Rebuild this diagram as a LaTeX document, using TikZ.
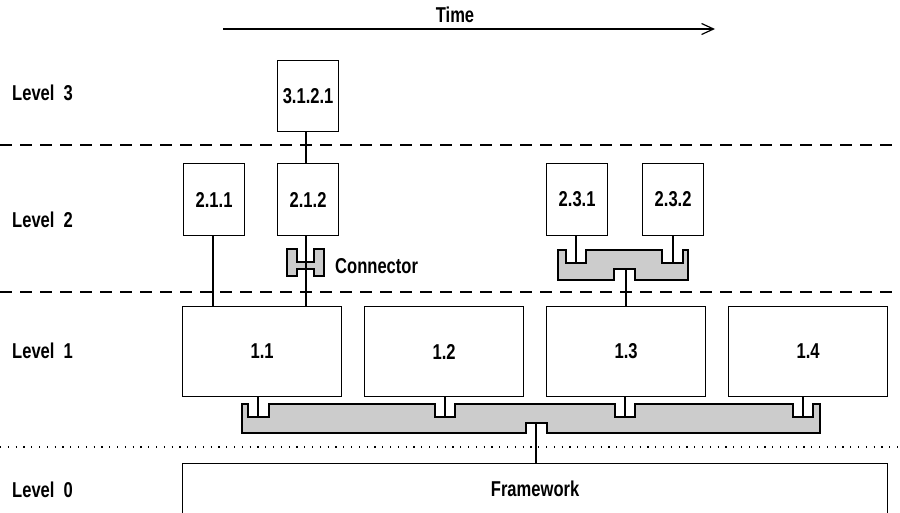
\documentclass[tikz,border=0pt]{standalone}
\usepackage{fontspec}
\setmainfont{Liberation Sans}[FakeStretch=0.77]
\usetikzlibrary{arrows.meta}
\definecolor{connfill}{HTML}{CCCCCC}
\tikzset{
  every node/.style={font=\bfseries\fontsize{21.5}{25}\selectfont, inner sep=0pt},
  part/.style={draw, line width=1.2pt, fill=white, anchor=north west},
  lvl/.style={anchor=west},
  link/.style={line width=1.2pt},
  conn/.style={draw, line width=1.2pt, fill=connfill},
  levelsep/.style={line width=1.2pt, dash pattern=on 12pt off 8pt},
  basesep/.style={line width=1.2pt, dash pattern=on 1.2pt off 6.6pt},
}
\begin{document}
\begin{tikzpicture}[x=1pt, y=-1pt]
\useasboundingbox (0,0) rectangle (900,513);

% time axis
\node (time) at (455,15) {Time};
\coordinate (t0) at (223,29);
\coordinate (t1) at (715,29);
\draw[link, -{Straight Barb[length=12pt,width=11pt,line width=1.2pt]}] (t0) -- (t1);

% level separators
\draw[levelsep] (0,145) -- (900,145);
\draw[levelsep] (0,292) -- (900,292);
\draw[basesep] (0,447) -- (900,447);

% level names
\node[lvl] (l3) at (12,93) {Level\ \ 3};
\node[lvl] (l2) at (12,220) {Level\ \ 2};
\node[lvl] (l1) at (12,351) {Level\ \ 1};
\node[lvl] (l0) at (12,490) {Level\ \ 0};

% components
\node[part, minimum width=61pt, minimum height=71pt] (b3121) at (277,60) {3.1.2.1};
\node[part, minimum width=61pt, minimum height=72pt] (b211) at (183,163) {2.1.1};
\node[part, minimum width=61pt, minimum height=72pt] (b212) at (277,163) {2.1.2};
\node[part, minimum width=61pt, minimum height=72pt] (b231) at (546,163) {2.3.1};
\node[part, minimum width=61pt, minimum height=72pt] (b232) at (642,163) {2.3.2};
\node[part, minimum width=159pt, minimum height=90pt] (b11) at (182,306) {1.1};
\node[part, minimum width=159pt, minimum height=90pt] (b12) at (364,306) {1.2};
\node[part, minimum width=159pt, minimum height=90pt] (b13) at (546,306) {1.3};
\node[part, minimum width=159pt, minimum height=90pt] (b14) at (728,306) {1.4};
\node[part, minimum width=705pt, minimum height=50pt] (fw) at (182,463) {Framework};

% connector between 2.1.2 and 1.1
\path[conn] (287,249) -- (297,249) -- (297,262) -- (314,262) -- (314,249)
  -- (324,249) -- (324,276) -- (314,276) -- (314,269) -- (297,269)
  -- (297,276) -- (287,276) -- cycle;
\node[anchor=west] (clabel) at (335,266) {Connector};
\coordinate (x212) at (306,0);
\coordinate (x211) at (213,0);
\draw[link] (b3121.south -| x212) -- (b212.north -| x212);
\draw[link] (b212.south -| x212) -- (b11.north -| x212);
\draw[link] (b211.south -| x211) -- (b11.north -| x211);

% connector joining 2.3.1 and 2.3.2 to 1.3
\path[conn] (558,250) -- (566,250) -- (566,263) -- (586,263) -- (586,250)
  -- (662,250) -- (662,263) -- (683,263) -- (683,250) -- (688,250)
  -- (688,280) -- (635,280) -- (635,269) -- (614,269) -- (614,280)
  -- (558,280) -- cycle;
\coordinate (s1) at (576,263);
\coordinate (s2) at (673,263);
\coordinate (s3) at (626,269);
\draw[link] (b231.south -| s1) -- (s1);
\draw[link] (b232.south -| s2) -- (s2);
\draw[link] (s3) -- (b13.north -| s3);

% connector joining level 1 to the framework
\path[conn] (242,404) -- (248,404) -- (248,417) -- (269,417) -- (269,404)
  -- (435,404) -- (435,417) -- (455,417) -- (455,404)
  -- (615,404) -- (615,417) -- (635,417) -- (635,404)
  -- (793,404) -- (793,417) -- (813,417) -- (813,404) -- (820,404)
  -- (820,433) -- (547,433) -- (547,423) -- (526,423) -- (526,433)
  -- (242,433) -- cycle;
\coordinate (p1) at (258,417);
\coordinate (p2) at (445,417);
\coordinate (p3) at (625,417);
\coordinate (p4) at (803,417);
\coordinate (pf) at (536,423);
\draw[link] (b11.south -| p1) -- (p1);
\draw[link] (b12.south -| p2) -- (p2);
\draw[link] (b13.south -| p3) -- (p3);
\draw[link] (b14.south -| p4) -- (p4);
\draw[link] (pf) -- (fw.north -| pf);
\end{tikzpicture}
\end{document}
